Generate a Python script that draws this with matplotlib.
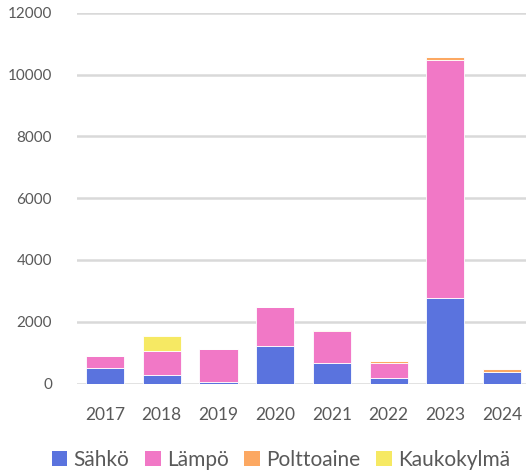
import numpy as np
import matplotlib.pyplot as plt
from matplotlib.patches import Patch

plt.rcParams['font.family'] = ['Lato', 'DejaVu Sans']

vuodet = ['2017', '2018', '2019', '2020', '2021', '2022', '2023', '2024']
sahko = [505, 269, 52, 1217, 667, 181, 2760, 366]
lampo = [401, 786, 1068, 1252, 1035, 486, 7703, 0]
polttoaine = [0, 0, 12, 10, 33, 55, 107, 119]
kaukokylma = [0, 476, 0, 0, 0, 0, 0, 0]

sarjat = ['Sähkö', 'Lämpö', 'Polttoaine', 'Kaukokylmä']
varit = ['#5A73DE', '#F178C6', '#FCA862', '#F6E963']
teksti = '#595959'

fig = plt.figure(figsize=(5.26, 4.71), dpi=100)
ax = fig.add_axes([77 / 526, 87.5 / 471, 449 / 526, 370.8 / 471])

x = np.arange(len(vuodet))
pohja = np.zeros(len(vuodet))
for arvot, vari in zip([sahko, lampo, polttoaine, kaukokylma], varit):
    ax.bar(x, arvot, bottom=pohja, width=0.67, color=vari,
           edgecolor='white', linewidth=0.6, zorder=3)
    pohja = pohja + np.array(arvot)

ax.set_ylim(0, 12000)
ax.set_xlim(-0.494, 7.42)
ax.set_yticks(range(0, 12001, 2000))
ax.set_xticks(x)
ax.set_xticklabels(vuodet)
ax.grid(axis='y', color='#D9D9D9', linewidth=1.8, zorder=0)
for s in ax.spines.values():
    s.set_visible(False)
ax.tick_params(axis='both', length=0, colors=teksti)
ax.tick_params(axis='y', labelsize=11, pad=18)
ax.tick_params(axis='x', labelsize=12.5, pad=17)

kahvat = [Patch(facecolor=v, label=s) for s, v in zip(sarjat, varit)]
fig.legend(handles=kahvat, loc='center', bbox_to_anchor=(0.534, 0.024),
           ncol=4, frameon=False, fontsize=15, labelcolor=teksti,
           handlelength=0.75, handleheight=0.75, handletextpad=0.3,
           columnspacing=0.75)

fig.savefig('out.png', dpi=100)
